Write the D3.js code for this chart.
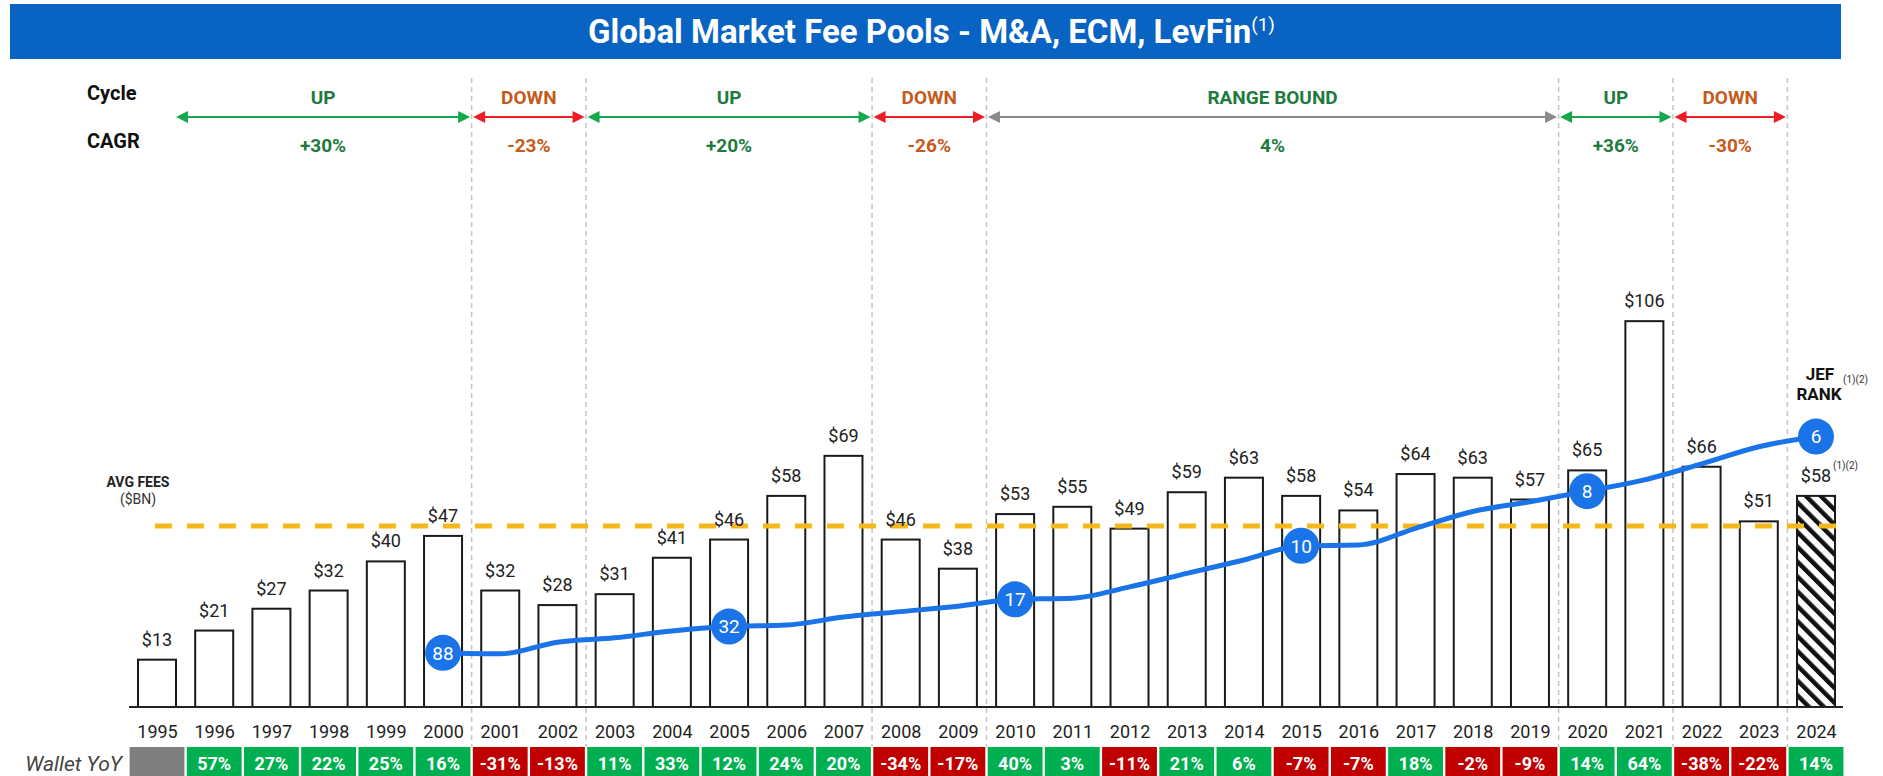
<!DOCTYPE html>
<html>
<head>
<meta charset="utf-8">
<script src="https://cdn.jsdelivr.net/npm/d3@7/dist/d3.min.js"></script>
<style>
  body { margin: 0; background: #fff; }
  svg { display: block; font-family: Roboto, "Noto Sans", sans-serif; }
</style>
</head>
<body>
<div id="chart"></div>
<script>
// ---- data ----
var years = [1995, 1996, 1997, 1998, 1999, 2000, 2001, 2002, 2003, 2004,
             2005, 2006, 2007, 2008, 2009, 2010, 2011, 2012, 2013, 2014,
             2015, 2016, 2017, 2018, 2019, 2020, 2021, 2022, 2023, 2024];
var fees = [13, 21, 27, 32, 40, 47, 32, 28, 31, 41,
            46, 58, 69, 46, 38, 53, 55, 49, 59, 63,
            58, 54, 64, 63, 57, 65, 106, 66, 51, 58];
var walletYoY = [null, 57, 27, 22, 25, 16, -31, -13, 11, 33,
                 12, 24, 20, -34, -17, 40, 3, -11, 21, 6,
                 -7, -7, 18, -2, -9, 14, 64, -38, -22, 14];
var avgFees = 49.7;

// JEF rank trend line (read on the chart's hidden secondary scale), 2000-2024
var rankLineYears = [2000, 2001, 2002, 2003, 2004, 2005, 2006, 2007, 2008, 2009,
                     2010, 2011, 2012, 2013, 2014, 2015, 2016, 2017, 2018, 2019,
                     2020, 2021, 2022, 2023, 2024];
var rankLine = [14.9, 14.6, 17.8, 19.0, 20.9, 22.1, 22.5, 24.7, 26.2, 27.7,
                29.6, 29.9, 33.0, 36.7, 40.4, 44.3, 44.5, 49.1, 53.7, 56.4,
                59.3, 62.4, 66.8, 71.5, 74.3];
var rankYears = [2000, 2005, 2010, 2015, 2020, 2024];
var rankValues = [88, 32, 17, 10, 8, 6];

// market cycles
var cycleLabels = ["UP", "DOWN", "UP", "DOWN", "RANGE BOUND", "UP", "DOWN"];
var cycleCagr = ["+30%", "-23%", "+20%", "-26%", "4%", "+36%", "-30%"];
var cycleStart = [1995, 2001, 2003, 2008, 2010, 2020, 2022];
var cycleEnd = [2000, 2002, 2007, 2009, 2019, 2021, 2023];
var cycleKind = ["up", "down", "up", "down", "flat", "up", "down"];

// ---- setup ----
var width = 1883, height = 776;
var baseY = 707, barW = 38;

var svg = d3.select("#chart").append("svg")
    .attr("width", width)
    .attr("height", height);

var defs = svg.append("defs");
defs.append("pattern")
    .attr("id", "hatch")
    .attr("patternUnits", "userSpaceOnUse")
    .attr("width", 10.5).attr("height", 10.5)
    .attr("patternTransform", "rotate(-45)")
  .append("rect")
    .attr("x", 0).attr("y", 0)
    .attr("width", 4.5).attr("height", 10.5)
    .attr("fill", "#111");

var x = d3.scalePoint()
    .domain(years)
    .range([157, 1816]);
var step = x.step();

var y = d3.scaleLinear()
    .domain([0, 110])
    .range([baseY, baseY - 110 * 3.64]);

function boundary(a) { return (x(a) + x(a + 1)) / 2; }

// title band
svg.append("rect")
    .attr("x", 10).attr("y", 4)
    .attr("width", 1831).attr("height", 55)
    .attr("fill", "#0863c2");
var title = svg.append("text")
    .attr("x", 588).attr("y", 43)
    .attr("fill", "#fff")
    .style("font-size", "33px")
    .style("font-weight", "bold")
    .text("Global Market Fee Pools - M&A, ECM, LevFin");
title.append("tspan")
    .attr("dy", -12)
    .style("font-size", "19px")
    .style("font-weight", "normal")
    .text("(1)");

// cycle separators
var sepYears = cycleEnd;
svg.append("g").selectAll("line")
    .data(sepYears)
    .enter().append("line")
    .attr("x1", function (d) { return boundary(d); })
    .attr("x2", function (d) { return boundary(d); })
    .attr("y1", 78).attr("y2", 747)
    .attr("stroke", "#c4c4c4")
    .attr("stroke-width", 1.5)
    .attr("stroke-dasharray", "5,4");

// row labels
svg.append("text").attr("x", 87).attr("y", 100)
    .style("font-size", "20px").style("font-weight", "bold").attr("fill", "#111")
    .text("Cycle");
svg.append("text").attr("x", 87).attr("y", 148)
    .style("font-size", "20px").style("font-weight", "bold").attr("fill", "#111")
    .text("CAGR");

// cycle arrows
var arrowColor = { up: "#13a849", down: "#ee1d23", flat: "#8a8a8a" };
var textColor = { up: "#1f7a40", down: "#c55a1c", flat: "#1f7a40" };
var arrowY = 117, head = 12;

var cycles = svg.append("g").selectAll("g")
    .data(cycleLabels.map(function (d, i) { return i; }))
    .enter().append("g");

cycles.each(function (i) {
  var g = d3.select(this);
  var x0 = i === 0 ? x(cycleStart[i]) + barW / 2 : boundary(cycleStart[i] - 1) + 1.5;
  var x1 = boundary(cycleEnd[i]) - 1.5;
  var c = arrowColor[cycleKind[i]];
  g.append("line")
      .attr("x1", x0 + head - 1).attr("x2", x1 - head + 1)
      .attr("y1", arrowY).attr("y2", arrowY)
      .attr("stroke", c).attr("stroke-width", 2.2);
  g.append("path")
      .attr("d", "M" + x0 + "," + arrowY + "L" + (x0 + head) + "," + (arrowY - 6) +
                 "L" + (x0 + head) + "," + (arrowY + 6) + "Z")
      .attr("fill", c);
  g.append("path")
      .attr("d", "M" + x1 + "," + arrowY + "L" + (x1 - head) + "," + (arrowY - 6) +
                 "L" + (x1 - head) + "," + (arrowY + 6) + "Z")
      .attr("fill", c);
  var tc = cycleCagr[i].charAt(0) === "-" ? textColor.down : textColor.up;
  g.append("text")
      .attr("x", (x0 + x1) / 2).attr("y", 104)
      .attr("text-anchor", "middle")
      .attr("fill", textColor[cycleKind[i]])
      .style("font-size", "19px").style("font-weight", "bold")
      .text(cycleLabels[i]);
  g.append("text")
      .attr("x", (x0 + x1) / 2).attr("y", 152)
      .attr("text-anchor", "middle")
      .attr("fill", tc)
      .style("font-size", "19px").style("font-weight", "bold")
      .text(cycleCagr[i]);
});

// bars
svg.append("g").selectAll("rect")
    .data(years)
    .enter().append("rect")
    .attr("x", function (d) { return x(d) - barW / 2; })
    .attr("y", function (d, i) { return y(fees[i]); })
    .attr("width", barW)
    .attr("height", function (d, i) { return baseY - y(fees[i]); })
    .attr("fill", function (d, i) { return i === years.length - 1 ? "url(#hatch)" : "#fff"; })
    .attr("stroke", "#1a1a1a")
    .attr("stroke-width", 2);

// axis baseline
svg.append("line")
    .attr("x1", 129).attr("x2", 1843)
    .attr("y1", baseY).attr("y2", baseY)
    .attr("stroke", "#222").attr("stroke-width", 2);

// year labels
var xAxis = svg.append("g")
    .attr("transform", "translate(0," + baseY + ")")
    .call(d3.axisBottom(x).tickSize(0).tickPadding(18));
xAxis.select(".domain").remove();
xAxis.selectAll("text")
    .style("font-size", "18px")
    .style("font-family", "Roboto, sans-serif")
    .attr("fill", "#222");

// average fees line
svg.append("line")
    .attr("x1", 155).attr("x2", 1849)
    .attr("y1", y(avgFees)).attr("y2", y(avgFees))
    .attr("stroke", "#f4b81c")
    .attr("stroke-width", 5)
    .attr("stroke-dasharray", "17,15");
svg.append("text").attr("x", 138).attr("y", 487)
    .attr("text-anchor", "middle").attr("fill", "#222")
    .style("font-size", "14px").style("font-weight", "bold")
    .text("AVG FEES");
svg.append("text").attr("x", 138).attr("y", 504)
    .attr("text-anchor", "middle").attr("fill", "#333")
    .style("font-size", "14px")
    .text("($BN)");

// value labels
svg.append("g").selectAll("text")
    .data(years)
    .enter().append("text")
    .attr("x", function (d) { return x(d); })
    .attr("y", function (d, i) { return y(fees[i]) - 14; })
    .attr("text-anchor", "middle")
    .attr("fill", "#222")
    .style("font-size", "18px")
    .text(function (d, i) { return "$" + fees[i]; });
svg.append("text")
    .attr("x", x(2024) + 17).attr("y", y(fees[fees.length - 1]) - 27)
    .attr("fill", "#333").style("font-size", "10px")
    .text("(1)(2)");

// JEF rank label
svg.append("text").attr("x", 1820).attr("y", 380)
    .attr("text-anchor", "middle").attr("fill", "#111")
    .style("font-size", "17px").style("font-weight", "bold")
    .text("JEF");
svg.append("text").attr("x", 1819).attr("y", 400)
    .attr("text-anchor", "middle").attr("fill", "#111")
    .style("font-size", "17px").style("font-weight", "bold")
    .text("RANK");
svg.append("text").attr("x", 1843).attr("y", 383)
    .attr("fill", "#333").style("font-size", "10px")
    .text("(1)(2)");

// rank line
var line = d3.line()
    .x(function (d, i) { return x(rankLineYears[i]); })
    .y(function (d) { return y(d); })
    .curve(d3.curveMonotoneX);
svg.append("path")
    .datum(rankLine)
    .attr("d", line)
    .attr("fill", "none")
    .attr("stroke", "#1a74e8")
    .attr("stroke-width", 5);

var dots = svg.append("g").selectAll("g")
    .data(rankYears)
    .enter().append("g")
    .attr("transform", function (d) {
      return "translate(" + x(d) + "," + y(rankLine[rankLineYears.indexOf(d)]) + ")";
    });
dots.append("circle").attr("r", 18).attr("fill", "#1a74e8");
dots.append("text")
    .attr("text-anchor", "middle").attr("dy", "0.36em")
    .attr("fill", "#fff").style("font-size", "19px")
    .text(function (d, i) { return rankValues[i]; });

// wallet YoY row
svg.append("text").attr("x", 122).attr("y", 771)
    .attr("text-anchor", "end").attr("fill", "#444")
    .style("font-size", "21px").style("font-style", "italic")
    .text("Wallet YoY");

var cells = svg.append("g").selectAll("g")
    .data(years)
    .enter().append("g");
cells.append("rect")
    .attr("x", function (d) { return x(d) - step / 2 + 1.2; })
    .attr("y", 747)
    .attr("width", step - 2.4)
    .attr("height", 32)
    .attr("fill", function (d, i) {
      var v = walletYoY[i];
      if (v === null) return "#7f7f7f";
      return v < 0 ? "#c00000" : "#00b050";
    });
cells.append("text")
    .attr("x", function (d) { return x(d); })
    .attr("y", 770)
    .attr("text-anchor", "middle")
    .attr("fill", "#fff")
    .style("font-size", "18px").style("font-weight", "bold")
    .text(function (d, i) { return walletYoY[i] === null ? "" : walletYoY[i] + "%"; });
</script>
</body>
</html>
